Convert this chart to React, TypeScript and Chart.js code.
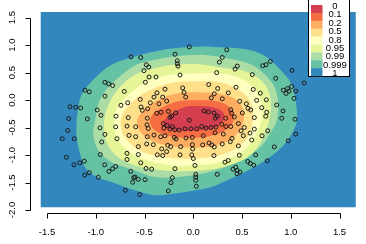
import React, { useEffect, useRef } from 'react';
import { Chart, registerables } from 'chart.js';
Chart.register(...registerables);

type P = [number, number];

const xTicks = [-1.5, -1, -0.5, 0, 0.5, 1, 1.5];
const yTicks = [-2, -1.5, -1, -0.5, 0, 0.5, 1, 1.5];
const levelLabels = ['0', '0.1', '0.2', '0.5', '0.8', '0.95', '0.99', '0.999', '1'];
const levelColors = ['#D53E4F', '#F46D43', '#FDAE61', '#FEE08B', '#FFFFBF', '#E6F598', '#ABDDA4', '#66C2A5', '#3288BD'];

// extent of the density grid (blue background)
const gridExtent: P[] = [[-1.565, 1.604], [1.666, 1.604], [1.666, -1.951], [-1.565, -1.951], [-1.565, 1.604]];

// contour boundaries (outer -> inner)
const contour999: P[] = [[0.325, 0.955], [0.086, 0.973], [-0.188, 0.942], [-0.393, 0.883], [-0.598, 0.793], [-0.837, 0.643], [-1.008, 0.402], [-1.145, 0.103], [-1.179, -0.139], [-1.196, -0.378], [-1.196, -0.679], [-1.162, -0.973], [-1.111, -1.22], [-0.991, -1.4], [-0.837, -1.49], [-0.701, -1.58], [-0.598, -1.64], [-0.393, -1.73], [-0.188, -1.699], [0.017, -1.64], [0.189, -1.58], [0.325, -1.477], [0.53, -1.31], [0.736, -1.099], [0.907, -0.859], [1.009, -0.618], [1.061, -0.378], [1.05, -0.018], [1.009, 0.283], [0.907, 0.523], [0.769, 0.762], [0.633, 0.883], [0.462, 0.942]];
const contour99: P[] = [[0.325, 0.769], [0.086, 0.823], [-0.188, 0.793], [-0.393, 0.733], [-0.598, 0.631], [-0.772, 0.402], [-0.906, 0.162], [-0.974, -0.077], [-1.008, -0.378], [-1.026, -0.618], [-0.974, -0.919], [-0.837, -1.13], [-0.701, -1.22], [-0.598, -1.279], [-0.393, -1.4], [-0.157, -1.4], [0.086, -1.339], [0.325, -1.22], [0.53, -1.04], [0.702, -0.829], [0.804, -0.559], [0.855, -0.378], [0.872, -0.077], [0.838, 0.222], [0.735, 0.463], [0.599, 0.643], [0.428, 0.733]];
const contour95: P[] = [[0.325, 0.582], [0.086, 0.649], [-0.188, 0.643], [-0.393, 0.582], [-0.598, 0.463], [-0.772, 0.198], [-0.875, -0.108], [-0.916, -0.414], [-0.895, -0.739], [-0.793, -1.009], [-0.598, -1.189], [-0.29, -1.279], [0.017, -1.288], [0.325, -1.207], [0.582, -1.009], [0.725, -0.649], [0.787, -0.288], [0.787, 0.072], [0.705, 0.342], [0.53, 0.523]];
const contour80: P[] = [[0.069, 0.486], [-0.188, 0.468], [-0.444, 0.36], [-0.649, 0.126], [-0.783, -0.162], [-0.813, -0.468], [-0.752, -0.775], [-0.577, -1.027], [-0.29, -1.171], [0.017, -1.189], [0.325, -1.099], [0.561, -0.847], [0.684, -0.468], [0.705, -0.108], [0.633, 0.198], [0.479, 0.396], [0.274, 0.486]];
const contour50: P[] = [[0.069, 0.342], [-0.188, 0.324], [-0.424, 0.198], [-0.618, -0.018], [-0.742, -0.342], [-0.711, -0.649], [-0.547, -0.919], [-0.29, -1.045], [0.017, -1.063], [0.325, -0.973], [0.53, -0.739], [0.612, -0.378], [0.582, -0.018], [0.458, 0.198], [0.274, 0.324]];
const contour20: P[] = [[0.069, 0.144], [-0.157, 0.126], [-0.342, 0.018], [-0.495, -0.162], [-0.577, -0.378], [-0.526, -0.613], [-0.342, -0.793], [0.017, -0.865], [0.294, -0.793], [0.458, -0.595], [0.52, -0.288], [0.458, -0.018], [0.294, 0.108]];
const contour10: P[] = [[0.069, 0.0], [-0.136, -0.018], [-0.29, -0.108], [-0.413, -0.252], [-0.444, -0.414], [-0.372, -0.577], [-0.188, -0.667], [0.017, -0.685], [0.223, -0.631], [0.376, -0.486], [0.417, -0.288], [0.356, -0.108], [0.223, -0.018]];
const contour0: P[] = [[0.069, -0.108], [-0.085, -0.126], [-0.218, -0.252], [-0.311, -0.414], [-0.239, -0.541], [0.017, -0.559], [0.223, -0.505], [0.315, -0.342], [0.294, -0.198], [0.192, -0.126]];

// observations
const obsPoints: P[] = [
  [-0.639, 0.787], [-0.906, 0.324], [-0.868, 0.294], [-0.827, 0.265], [-0.708, 0.157], [-1.111, 0.18], [-1.067, 0.15], [-0.906, 0.072], [-0.673, -0.049], [-0.742, -0.095], [-1.265, -0.121], [-1.206, -0.132], [-1.155, -0.144], [-0.985, -0.18], [-0.947, -0.276], [-0.793, -0.294], [-0.667, -0.319], [-1.278, -0.337], [-1.087, -0.342],
  [-0.041, 0.968], [-0.539, 0.775], [-0.188, 0.834], [0.297, 0.775], [0.267, 0.69], [-0.164, 0.715], [-0.164, 0.661], [-0.157, 0.618], [-0.482, 0.643], [-0.457, 0.6], [-0.506, 0.535], [-0.454, 0.42], [-0.383, 0.42], [-0.136, 0.456], [0.24, 0.499], [-0.492, 0.324], [-0.109, 0.222], [0.158, 0.283], [0.25, 0.211], [-0.29, 0.198], [-0.372, 0.132], [-0.095, 0.139], [0.215, 0.114], [-0.078, 0.054], [0.185, 0.041], [-0.314, 0.054], [-0.403, 0.054], [-0.544, 0.013], [0.297, 0.023], [-0.273, -0.018], [-0.441, -0.049], [-0.352, -0.067], [-0.536, -0.126], [-0.468, -0.157], [-0.523, -0.186], [-0.375, -0.24], [-0.331, -0.222], [-0.256, -0.204], [-0.181, -0.234], [-0.222, -0.288], [-0.239, -0.312], [-0.472, -0.33], [-0.041, -0.366], [0.11, -0.198], [0.154, -0.216], [0.212, -0.234], [0.246, -0.294], [0.226, -0.33],
  [0.343, 0.914], [0.746, 0.643], [0.79, 0.703], [0.712, 0.625], [0.451, 0.618], [0.428, 0.564], [0.605, 0.463], [1.012, 0.541], [0.845, 0.396], [1.138, 0.312], [1.009, 0.247], [0.968, 0.211], [0.923, 0.18], [0.982, 0.162], [1.05, 0.162], [0.951, 0.121], [1.033, 0.031], [0.615, 0.193], [0.687, 0.126], [0.438, 0.234], [0.359, 0.132], [0.476, -0.023], [0.65, -0.005], [0.749, 0.005], [0.544, -0.067], [0.561, -0.15], [0.702, -0.139], [0.855, -0.09], [0.92, -0.198], [0.503, -0.234], [0.589, -0.18], [0.753, -0.222], [0.384, -0.175], [0.394, -0.24], [0.421, -0.306], [0.626, -0.319], [0.743, -0.294], [0.907, -0.33], [1.043, -0.348], [0.332, -0.33],
  [-1.288, -0.553], [-1.344, -0.703], [-1.221, -0.703], [-0.957, -0.505], [-0.796, -0.486], [-0.68, -0.474], [-0.906, -0.625], [-0.783, -0.703], [-0.659, -0.643], [-0.939, -0.762], [-1.303, -1.04], [-0.954, -0.991], [-0.68, -0.968], [-0.68, -1.081], [-1.224, -1.177], [-1.165, -1.141], [-1.118, -1.112], [-0.909, -1.177], [-0.796, -1.207], [-0.827, -1.249], [-0.865, -1.297], [-0.642, -1.297], [-1.067, -1.321], [-1.114, -1.364], [-0.974, -1.405], [-0.611, -1.411], [-0.622, -1.495], [-0.697, -1.64],
  [-0.475, -0.45], [-0.462, -0.517], [-0.308, -0.427], [-0.267, -0.463], [-0.301, -0.51], [-0.239, -0.528], [-0.215, -0.486], [-0.188, -0.541], [-0.144, -0.546], [-0.085, -0.523], [-0.024, -0.523], [0.035, -0.523], [0.086, -0.481], [0.13, -0.51], [0.182, -0.499], [0.233, -0.492], [0.291, -0.438], [-0.591, -0.486], [-0.591, -0.667], [-0.472, -0.667], [-0.403, -0.636], [-0.334, -0.667], [-0.29, -0.649], [-0.195, -0.679], [-0.177, -0.708], [-0.075, -0.69], [-0.01, -0.679], [0.103, -0.649], [0.223, -0.595], [0.308, -0.618], [-0.564, -0.847], [-0.478, -0.798], [-0.41, -0.811], [-0.324, -0.888], [-0.263, -0.823], [-0.232, -0.847], [-0.273, -0.937], [-0.129, -0.847], [-0.01, -0.811], [-0.006, -0.888], [0.096, -0.816], [0.161, -0.78], [0.189, -0.816], [0.215, -0.852], [0.297, -0.798], [-0.564, -0.991], [-0.369, -0.996], [-0.314, -1.009], [-0.136, -0.996], [-0.016, -0.996], [0.0, -1.063], [0.212, -1.009], [-0.539, -1.141], [-0.427, -1.256], [-0.485, -1.243], [-0.188, -1.249], [0.017, -1.189], [0.325, -1.13], [0.025, -1.351], [0.025, -1.4], [0.025, -1.459], [0.246, -1.351], [-0.598, -1.4], [-0.564, -1.441], [-0.495, -1.447], [-0.215, -1.411], [-0.229, -1.501], [0.031, -1.568], [-0.256, -1.652], [-0.55, -1.717],
  [0.335, -0.481], [0.384, -0.481], [0.462, -0.427], [0.523, -0.499], [0.489, -0.559], [0.582, -0.6], [0.626, -0.528], [0.763, -0.559], [0.705, -0.649], [0.513, -0.649], [0.397, -0.697], [0.379, -0.757], [0.599, -0.726], [1.05, -0.618], [0.974, -0.739], [0.462, -0.834], [0.831, -0.852], [0.472, -1.004], [0.64, -0.996], [0.359, -1.099], [0.558, -1.117], [0.585, -1.153], [0.619, -1.184], [0.759, -1.105], [0.435, -1.22], [0.407, -1.256], [0.451, -1.279], [0.479, -1.31], [0.448, -1.339],
];

const FONT = '9.5px "Liberation Sans", Arial, Helvetica, sans-serif';

const closeRing = (pts: P[]) => [...pts, pts[0]].map(([x, y]) => ({ x, y }));

const rAxesPlugin = {
  id: 'rAxes',
  afterDraw(chart: any) {
    const { ctx, chartArea, scales } = chart;
    const xs = scales.x, ys = scales.y;
    ctx.save();
    ctx.strokeStyle = '#000';
    ctx.fillStyle = '#000';
    ctx.lineWidth = 1;
    ctx.font = FONT;
    // x axis
    const yb = Math.round(chartArea.bottom) + 0.5;
    ctx.beginPath();
    ctx.moveTo(Math.round(xs.getPixelForValue(xTicks[0])) + 0.5, yb);
    ctx.lineTo(Math.round(xs.getPixelForValue(xTicks[xTicks.length - 1])) + 0.5, yb);
    xTicks.forEach((t) => {
      const px = Math.round(xs.getPixelForValue(t)) + 0.5;
      ctx.moveTo(px, yb);
      ctx.lineTo(px, yb + 5);
    });
    ctx.stroke();
    ctx.textAlign = 'center';
    ctx.textBaseline = 'middle';
    xTicks.forEach((t) => {
      ctx.fillText(t.toFixed(1), xs.getPixelForValue(t), yb + 18.5);
    });
    // y axis
    const xl = Math.round(chartArea.left) - 0.5;
    ctx.beginPath();
    ctx.moveTo(xl, Math.round(ys.getPixelForValue(yTicks[0])) + 0.5);
    ctx.lineTo(xl, Math.round(ys.getPixelForValue(yTicks[yTicks.length - 1])) + 0.5);
    yTicks.forEach((t) => {
      const py = Math.round(ys.getPixelForValue(t)) + 0.5;
      ctx.moveTo(xl, py);
      ctx.lineTo(xl - 5, py);
    });
    ctx.stroke();
    yTicks.forEach((t) => {
      ctx.save();
      ctx.translate(12.5, ys.getPixelForValue(t));
      ctx.rotate(-Math.PI / 2);
      ctx.fillText(t.toFixed(1), 0, 0);
      ctx.restore();
    });
    // legend
    const bx0 = 308.5, bx1 = 349.5, by0 = -1.5, by1 = 76.5;
    ctx.fillStyle = '#fff';
    ctx.fillRect(bx0, by0, bx1 - bx0, by1 - by0);
    ctx.strokeRect(bx0, by0, bx1 - bx0, by1 - by0);
    const sh = (76 - 5) / levelColors.length;
    levelColors.forEach((c, i) => {
      ctx.fillStyle = c;
      ctx.fillRect(311, 5 + i * sh, 11.5, sh + 0.2);
    });
    ctx.fillStyle = '#000';
    ctx.textAlign = 'center';
    levelLabels.forEach((l, i) => {
      ctx.fillText(l, 335, 6.5 + i * 8.35);
    });
    ctx.restore();
  },
};

export default function App() {
  const ref = useRef<HTMLCanvasElement>(null);
  useEffect(() => {
    if (!ref.current) return;
    const rings = [gridExtent, contour999, contour99, contour95, contour80, contour50, contour20, contour10, contour0];
    const ringColors = ['#3288BD', '#66C2A5', '#ABDDA4', '#E6F598', '#FFFFBF', '#FEE08B', '#FDAE61', '#F46D43', '#D53E4F'];
    const datasets: any[] = rings.map((r, i) => ({
      type: 'line',
      data: closeRing(r),
      showLine: true,
      fill: 'shape',
      backgroundColor: ringColors[i],
      borderColor: ringColors[i],
      borderWidth: 0,
      pointRadius: 0,
      tension: i === 0 ? 0 : 0.35,
      order: 20 - i,
    }));
    datasets.push({
      type: 'scatter',
      data: obsPoints.map(([x, y]) => ({ x, y })),
      showLine: false,
      pointRadius: 2,
      pointBorderWidth: 1,
      borderColor: '#1a1a1a',
      backgroundColor: 'rgba(0,0,0,0)',
      order: 0,
    });
    const chart = new Chart(ref.current, {
      type: 'scatter',
      data: { datasets },
      options: {
        animation: false,
        responsive: false,
        devicePixelRatio: 1,
        layout: { padding: { left: 31, right: 8, top: 3, bottom: 31 } },
        plugins: { legend: { display: false }, tooltip: { enabled: false } },
        events: [],
        scales: {
          x: { type: 'linear', display: false, min: -1.6646, max: 1.6892 },
          y: { type: 'linear', display: false, min: -2.0541, max: 1.7297 },
        },
      },
      plugins: [rAxesPlugin],
    } as any);
    return () => chart.destroy();
  }, []);
  return (
    <div style={{ position: 'absolute', left: 0, top: 0, width: 366, height: 244, background: '#fff' }}>
      <canvas ref={ref} width={366} height={244} />
    </div>
  );
}
